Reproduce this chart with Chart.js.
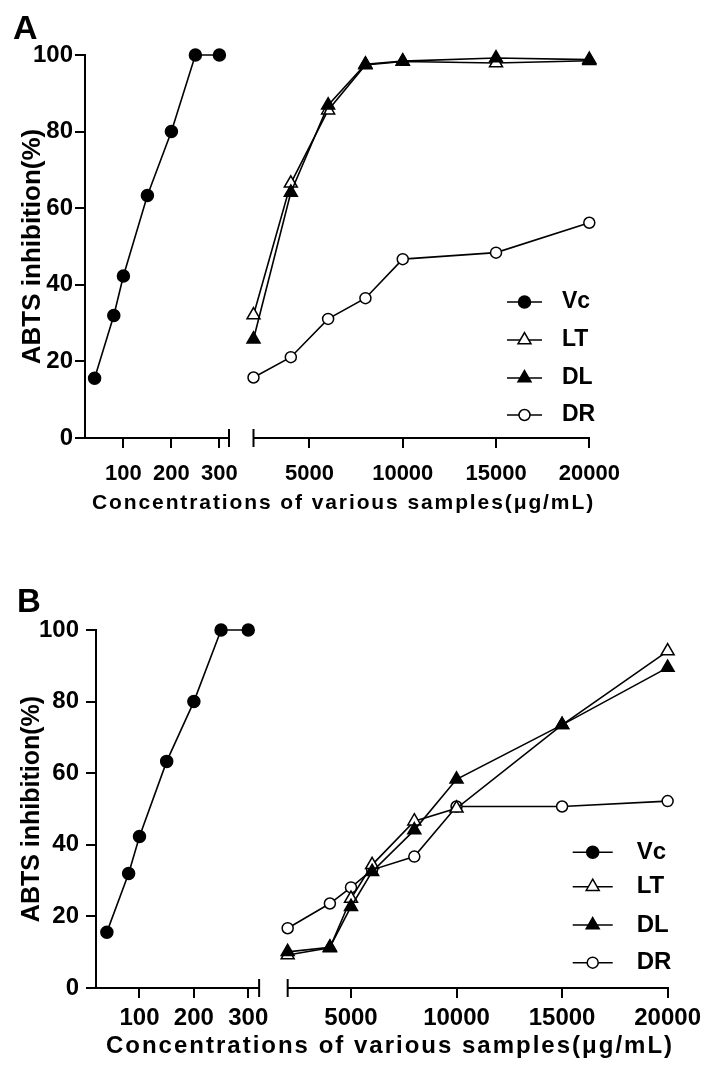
<!DOCTYPE html>
<html>
<head>
<meta charset="utf-8">
<title>ABTS inhibition</title>
<script src="https://cdn.jsdelivr.net/npm/chart.js@4.4.1/dist/chart.umd.min.js"></script>
<style>
  html, body { margin: 0; padding: 0; background: #fff; }
  #wrap { position: relative; width: 707px; height: 1065px; }
  canvas { position: absolute; left: 0; }
  #chartA { top: 0; }
  #chartB { top: 535px; }
</style>
</head>
<body>
<div id="wrap">
  <canvas id="chartA" width="707" height="535"></canvas>
  <canvas id="chartB" width="707" height="530"></canvas>
</div>
<script>
// ---- data ----
const seriesNames = ['Vc', 'LT', 'DL', 'DR'];

const vcConc = [40, 80, 100, 150, 200, 250, 300];
const vcInhibition = [15.6, 32.0, 42.3, 63.3, 80.0, 100, 100];

// panel A
const concA = [2000, 4000, 6000, 8000, 10000, 15000, 20000];
const ltA = [32.1, 66.5, 85.6, 97.4, 98.3, 97.9, 98.5];
const dlA = [25.8, 64.1, 86.9, 97.6, 98.4, 99.2, 98.8];
const drA = [15.8, 21.1, 31.1, 36.5, 46.7, 48.4, 56.2];

// panel B
const concB = [2000, 4000, 5000, 6000, 8000, 10000, 15000, 20000];
const ltB = [9.2, 11.2, 25.0, 34.4, 46.6, 50.2, 73.5, 94.1];
const dlB = [10.1, 11.4, 22.7, 32.5, 44.1, 58.3, 73.5, 89.5];
const drB = [16.7, 23.6, 28.1, 33.0, 36.7, 50.7, 50.7, 52.2];

const yTicks = [0, 20, 40, 60, 80, 100];
const lowTicks = [100, 200, 300];
const highTicks = [5000, 10000, 15000, 20000];

const yTitle = 'ABTS inhibition(%)';
const xTitle = 'Concentrations of various samples(μg/mL)';

const FONT = "'Liberation Sans', Arial, sans-serif";

const pairs = (xs, ys) => xs.map((x, i) => ({ x: x, y: ys[i] }));
const bold = size => ({ family: FONT, size: size, weight: 'bold' });

// extra drawing: axis break bars, legend with line+marker, x title, panel letter
function decorPlugin(p) {
    return {
        id: 'decor',
        afterDraw(chart) {
            const { ctx, scales } = chart;
            ctx.save();

            // break bars at the ends of the two x segments
            const axisY = scales.xLow.top;
            ctx.strokeStyle = '#000';
            ctx.lineWidth = 2;
            [scales.xLow.right, scales.xHigh.left].forEach(x => {
                ctx.beginPath();
                ctx.moveTo(x, axisY - 9);
                ctx.lineTo(x, axisY + 9);
                ctx.stroke();
            });

            // legend
            ctx.font = `bold ${p.legendSize}px ${FONT}`;
            ctx.textAlign = 'left';
            ctx.textBaseline = 'middle';
            chart.data.datasets.forEach((ds, i) => {
                const y = p.legendY[i];
                ctx.strokeStyle = '#000';
                ctx.lineWidth = ds.borderWidth;
                ctx.beginPath();
                ctx.moveTo(p.legendX - p.legendLine / 2, y);
                ctx.lineTo(p.legendX + p.legendLine / 2, y);
                ctx.stroke();
                ctx.fillStyle = ds.pointBackgroundColor;
                ctx.lineWidth = ds.pointBorderWidth;
                Chart.helpers.drawPoint(ctx, {
                    pointStyle: ds.pointStyle,
                    radius: ds.pointRadius,
                    rotation: 0,
                    borderWidth: ds.pointBorderWidth
                }, p.legendX, y);
                ctx.fillStyle = '#000';
                ctx.fillText(ds.label, p.legendTextX, y);
            });

            // x axis title spanning both segments
            ctx.font = `bold ${p.xTitleSize}px ${FONT}`;
            ctx.letterSpacing = p.xTitleSpacing + 'px';
            ctx.textAlign = 'center';
            ctx.fillText(xTitle, p.xTitleX, p.xTitleY);

            // panel letter
            ctx.letterSpacing = '0px';
            ctx.font = `bold ${p.letterSize}px ${FONT}`;
            ctx.textAlign = 'left';
            ctx.textBaseline = 'alphabetic';
            ctx.fillText(p.letter, p.letterX, p.letterY);

            ctx.restore();
        }
    };
}

function buildPanel(p) {
    const common = {
        borderColor: '#000',
        borderWidth: 1.6,
        pointBorderColor: '#000',
        pointBorderWidth: 1.5,
        showLine: true,
        tension: 0,
        clip: false
    };
    const datasets = [
        { ...common, label: seriesNames[0], data: pairs(vcConc, vcInhibition), xAxisID: 'xLow',
          pointStyle: 'circle', pointRadius: 6, pointBackgroundColor: '#000', order: 0 },
        { ...common, label: seriesNames[1], data: pairs(p.conc, p.lt), xAxisID: 'xHigh',
          pointStyle: 'triangle', pointRadius: 7.5, pointBackgroundColor: '#fff', order: 2 },
        { ...common, label: seriesNames[2], data: pairs(p.conc, p.dl), xAxisID: 'xHigh',
          pointStyle: 'triangle', pointRadius: 7.5, pointBackgroundColor: '#000', order: 1 },
        { ...common, label: seriesNames[3], data: pairs(p.conc, p.dr), xAxisID: 'xHigh',
          pointStyle: 'circle', pointRadius: 5.5, pointBackgroundColor: '#fff', order: 3 }
    ];

    const axisGrid = { drawOnChartArea: false, color: '#000', lineWidth: 2, tickLength: 10 };
    const axisBorder = { color: '#000', width: 2 };
    const xTickOpts = {
        color: '#000', font: bold(p.tickSize), padding: p.xTickPad,
        maxRotation: 0, autoSkip: false, callback: v => String(v)
    };

    new Chart(document.getElementById(p.canvas), {
        type: 'scatter',
        data: { datasets: datasets },
        options: {
            responsive: false,
            animation: false,
            events: [],
            layout: { padding: { left: 0, top: p.top, right: p.rightPad, bottom: p.bottomPad } },
            plugins: { legend: { display: false }, tooltip: { enabled: false } },
            scales: {
                y: {
                    type: 'linear', position: 'left', min: 0, max: 100,
                    afterBuildTicks: s => { s.ticks = yTicks.map(v => ({ value: v })); },
                    afterFit: s => { s.width = p.axisLeft; },
                    border: axisBorder,
                    grid: axisGrid,
                    ticks: { color: '#000', font: bold(p.yTickSize), padding: p.yTickPad },
                    title: {
                        display: true, text: yTitle, color: '#000',
                        font: bold(p.yTitleSize), padding: { top: p.yTitlePad, bottom: 0 }
                    }
                },
                xLow: {
                    type: 'linear', position: 'bottom', stack: 'x', stackWeight: p.lowW,
                    min: 20, max: 320,
                    afterBuildTicks: s => { s.ticks = lowTicks.map(v => ({ value: v })); },
                    afterFit: s => { s.height = 45; },
                    border: axisBorder,
                    grid: axisGrid,
                    ticks: xTickOpts
                },
                xGap: {
                    type: 'linear', position: 'bottom', stack: 'x', stackWeight: p.gapW,
                    min: 0, max: 1,
                    afterFit: s => { s.height = 45; },
                    border: { display: false },
                    grid: { display: false },
                    ticks: { display: false }
                },
                xHigh: {
                    type: 'linear', position: 'bottom', stack: 'x', stackWeight: p.highW,
                    min: 2000, max: 20000,
                    afterBuildTicks: s => { s.ticks = highTicks.map(v => ({ value: v })); },
                    afterFit: s => { s.height = 45; },
                    border: axisBorder,
                    grid: axisGrid,
                    ticks: xTickOpts
                }
            }
        },
        plugins: [decorPlugin(p)]
    });
}

buildPanel({
    canvas: 'chartA', letter: 'A', letterX: 13, letterY: 39, letterSize: 34,
    conc: concA, lt: ltA, dl: dlA, dr: drA,
    top: 55, axisLeft: 85, rightPad: 117.7, bottomPad: 52,
    lowW: 144, gapW: 24.5, highW: 335.8,
    tickSize: 22, yTickSize: 24, yTickPad: 2, xTickPad: 13,
    yTitleSize: 26, yTitlePad: 17,
    legendX: 524.5, legendLine: 35, legendTextX: 562, legendY: [302, 340, 378, 415], legendSize: 23,
    xTitleSize: 21, xTitleSpacing: 1.9, xTitleX: 343.5, xTitleY: 503
});

buildPanel({
    canvas: 'chartB', letter: 'B', letterX: 17, letterY: 77, letterSize: 33,
    conc: concB, lt: ltB, dl: dlB, dr: drB,
    top: 95, axisLeft: 96, rightPad: 36.3, bottomPad: 32,
    lowW: 164, gapW: 28.7, highW: 382,
    tickSize: 24, yTickSize: 24, yTickPad: 7, xTickPad: 6,
    yTitleSize: 25, yTitlePad: 17,
    legendX: 592.7, legendLine: 40, legendTextX: 636.7, legendY: [317.3, 351.7, 390, 427.7], legendSize: 24,
    xTitleSize: 24, xTitleSpacing: 2, xTitleX: 390, xTitleY: 511
});
</script>
</body>
</html>
